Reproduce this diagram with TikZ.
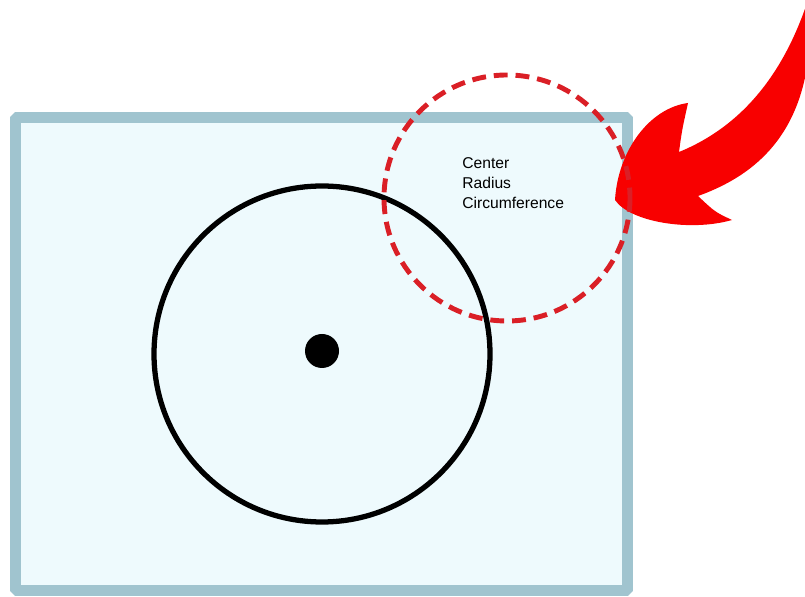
\documentclass[tikz,border=0pt]{standalone}
\usepackage{fontspec}
\setmainfont{Liberation Sans}
\definecolor{frameblue}{HTML}{A0C4CF}
\definecolor{framefill}{HTML}{EEFAFD}
\definecolor{arrowred}{HTML}{F80000}
\definecolor{dashred}{HTML}{DA1F26}
\begin{document}
\begin{tikzpicture}[x=0.02cm,y=-0.02cm,
  frame/.style={draw=frameblue,fill=framefill,line width=6.2pt},
  ring/.style={draw=black,line width=3pt},
  dashring/.style={draw=dashred,line width=2.8pt,dash pattern=on 7.9pt off 4.5pt},
  label/.style={font=\fontsize{8.9pt}{11.4pt}\selectfont,align=left,inner sep=0pt,anchor=north west}]
\clip (0,0) rectangle (805,597);
\fill[white] (0,0) rectangle (805,597);
\draw[frame,rounded corners=1pt] (15.5,117.5) rectangle (627.5,590.5);
\draw[ring] (322,354) circle[radius=168];
\fill[black] (322,351) circle[radius=17];
\fill[arrowred] (808,0) .. controls (785,70) and (745,125) .. (679,152)
  .. controls (682,130) .. (688,103)
  .. controls (650,108) and (618,150) .. (615,200)
  .. controls (630,222) and (690,232) .. (732,220)
  .. controls (715,212) .. (698,196)
  .. controls (765,172) and (805,125) .. (810,40) -- (812,0) -- cycle;
\draw[dashring] (507,198) circle[radius=123];
\node[label] (txt) at (462,157) {Center\\Radius\\Circumference};
\end{tikzpicture}
\end{document}
